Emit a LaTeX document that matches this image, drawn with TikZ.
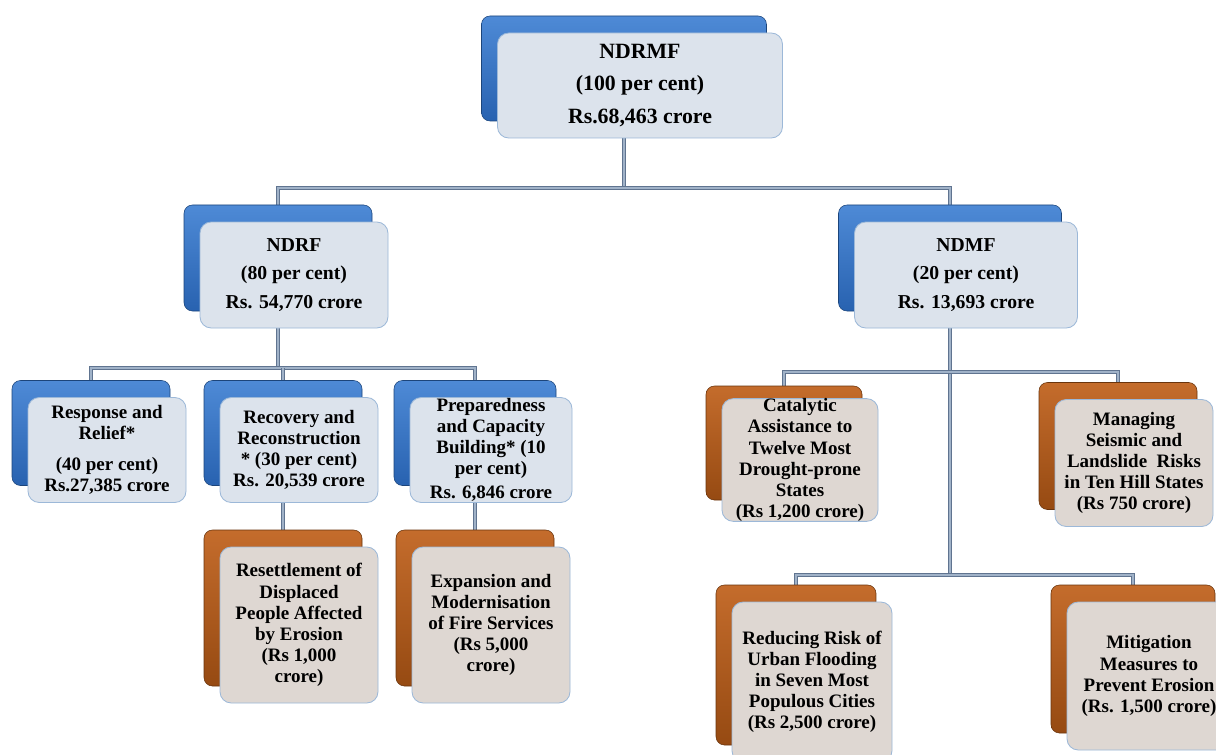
\documentclass[tikz,border=0pt]{standalone}
\usepackage{fontspec}
\setmainfont{Liberation Serif}
\usetikzlibrary{positioning,calc,backgrounds}

\definecolor{bluedark}{RGB}{40,98,176}
\definecolor{bluelight}{RGB}{78,138,214}
\definecolor{browndark}{RGB}{150,74,18}
\definecolor{brownlight}{RGB}{196,108,44}
\definecolor{frontblue}{RGB}{220,227,236}
\definecolor{frontbrown}{RGB}{222,215,210}
\definecolor{frontedge}{RGB}{156,184,216}
\definecolor{linkdark}{RGB}{96,116,144}
\definecolor{linklight}{RGB}{160,178,200}

\newcommand{\px}{0.025cm}

\tikzset{
  backblue/.style={rounded corners=6pt, draw=bluedark!70!black, line width=0.4pt,
    top color=bluelight, bottom color=bluedark},
  backbrown/.style={rounded corners=6pt, draw=browndark!70!black, line width=0.4pt,
    top color=brownlight, bottom color=browndark},
  frontblue/.style={rounded corners=8pt, draw=frontedge, line width=0.6pt,
    fill=frontblue, align=center, inner sep=0pt},
  frontbrown/.style={rounded corners=8pt, draw=frontedge, line width=0.6pt,
    fill=frontbrown, align=center, inner sep=0pt},
  link/.style={draw=linkdark, line width=1.1pt, double=linklight, double distance=1.3pt},
  toptext/.style={font=\fontsize{15.5}{23}\selectfont\bfseries},
  midtext/.style={font=\fontsize{14}{20.5}\selectfont\bfseries},
  lowtext/.style={font=\fontsize{13.5}{15}\selectfont\bfseries}
}

% box pair: name, kind, x, y, w, h, text style, text
\newcommand{\panel}[8]{%
  \node[back#2, minimum width=#5*\px, minimum height=#6*\px] (#1-b) at (#3-16,#4-17) {};
  \node[front#2, #7, minimum width=#5*\px, minimum height=#6*\px] (#1) at (#3,#4) {#8};
}

\begin{document}
\begin{tikzpicture}[x=\px, y=-\px]
  \useasboundingbox (0,0) rectangle (1216,755);

  % top level
  \panel{ndrmf}{blue}{640}{85.5}{285}{105}{toptext}{NDRMF\\(100 per cent)\\Rs.68,463 crore}

  % funds
  \panel{ndrf}{blue}{294}{275}{188}{106}{midtext}{NDRF\\(80 per cent)\\Rs. 54,770 crore}
  \panel{ndmf}{blue}{966}{275}{223}{106}{midtext}{NDMF\\(20 per cent)\\Rs. 13,693 crore}

  % NDRF windows
  \panel{resp}{blue}{107}{450}{158}{105}{lowtext}{Response and\\Relief*\\[7pt](40 per cent)\\Rs.27,385 crore}
  \panel{recov}{blue}{299}{450}{158}{105}{lowtext}{Recovery and\\Reconstruction\\* (30 per cent)\\Rs. 20,539 crore}
  \panel{prep}{blue}{491}{450}{162}{105}{lowtext}{Preparedness\\and Capacity\\Building* (10\\per cent)\\[2pt]Rs. 6,846 crore}
  \panel{resett}{brown}{299}{625}{158}{156}{lowtext}{Resettlement of\\Displaced\\People Affected\\by Erosion\\(Rs 1,000\\crore)}
  \panel{expan}{brown}{491}{625}{158}{156}{lowtext}{Expansion and\\Modernisation\\of Fire Services\\(Rs 5,000\\crore)}

  % NDMF windows
  \panel{catal}{brown}{800}{460}{156}{114}{lowtext}{Catalytic\\Assistance to\\Twelve Most\\Drought-prone\\States\\(Rs 1,200 crore)}
  \panel{manag}{brown}{1134}{463}{158}{127}{lowtext}{Managing\\Seismic and\\Landslide \ Risks\\in Ten Hill States\\(Rs 750 crore)}
  \panel{reduc}{brown}{812}{682}{160}{160}{lowtext}{Reducing Risk of\\Urban Flooding\\in Seven Most\\Populous Cities\\(Rs 2,500 crore)}
  \panel{mitig}{brown}{1149}{676}{164}{148}{lowtext}{Mitigation\\Measures to\\Prevent Erosion\\(Rs. 1,500 crore)}

  % connectors behind the boxes
  \begin{scope}[on background layer]
    \fill[white] (0,0) rectangle (1216,755);
    \coordinate (barA) at (ndrmf-b.center |- 0,188);
    \coordinate (barB) at (ndrf-b.center |- 0,368);
    \coordinate (barC) at (ndmf-b.center |- 0,372);
    \coordinate (barD) at (ndmf-b.center |- 0,575);
    \draw[link] (ndrmf-b.center) -- (barA);
    \draw[link] (ndrf-b.center) |- (barA) -| (ndmf-b.center);
    \draw[link] (ndrf-b.center) -- (barB);
    \draw[link] (resp-b.center) |- (barB) -| (prep-b.center);
    \draw[link] (resett-b.center) -- (recov-b.center |- barB);
    \draw[link] (prep-b.center) -- (expan-b.center);
    \draw[link] (ndmf-b.center) -- (barD);
    \draw[link] (catal-b.center) |- (barC) -| (manag-b.center);
    \draw[link] (reduc-b.center) |- (barD) -| (mitig-b.center);
  \end{scope}
\end{tikzpicture}
\end{document}
